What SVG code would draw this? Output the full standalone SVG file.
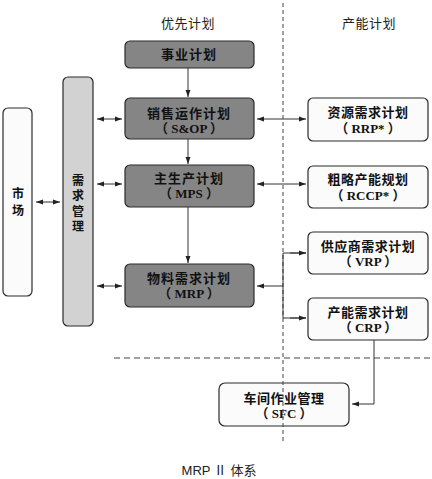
<svg xmlns="http://www.w3.org/2000/svg" width="432" height="479" viewBox="0 0 432 479">
<style>
.dark{fill:#858585;stroke:#2a2a2a;stroke-width:1.2}
.light{fill:#d2d2d2;stroke:#2a2a2a;stroke-width:1.2}
.white{fill:#fbfbfb;stroke:#2a2a2a;stroke-width:1.2}
.t{font-family:"Noto Sans CJK SC",sans-serif;font-size:13px;font-weight:bold;fill:#111;text-anchor:middle}
.v{font-family:"Noto Sans CJK SC",sans-serif;font-size:12px;font-weight:bold;fill:#111;writing-mode:vertical-rl;text-anchor:start}
.s{font-family:"Liberation Serif","Noto Sans CJK SC",serif;font-size:13px;font-weight:bold;fill:#111;text-anchor:middle}
.h{font-family:"Noto Sans CJK SC",sans-serif;font-size:13px;fill:#222;text-anchor:middle}
.c{stroke:#333;stroke-width:1;fill:none}
.d{stroke:#444;stroke-width:1;fill:none}
</style>
<defs>
<marker id="a" viewBox="0 0 10 10" refX="10" refY="5" markerWidth="7" markerHeight="7" orient="auto-start-reverse" markerUnits="userSpaceOnUse">
<path d="M0,1.5 L10,5 L0,8.5 z" fill="#222"/>
</marker>
</defs>
<rect width="432" height="479" fill="#ffffff"/>
<g id="headings">
<text class="h" x="188" y="28" letter-spacing="0.5">优先计划</text>
<text class="h" x="369" y="28" letter-spacing="0.5">产能计划</text>
</g>
<g id="market">
<rect class="white" x="3" y="108" width="29" height="188" rx="5"/>
<text class="v" x="18" y="187" letter-spacing="5">市场</text>
</g>
<g id="demand">
<rect class="light" x="63" y="77" width="30" height="249" rx="5"/>
<text class="v" x="78" y="174" letter-spacing="3.5">需求管理</text>
</g>
<g id="bp">
<rect class="dark" x="125" y="41" width="129" height="27" rx="5"/>
<text class="t" x="189" y="59" letter-spacing="1">事业计划</text>
</g>
<g id="sop">
<rect class="dark" x="125" y="98" width="129" height="41" rx="5"/>
<text class="t" x="189" y="118" letter-spacing="1">销售运作计划</text>
<text class="s" x="189" y="133">（ S&amp;OP ）</text>
</g>
<g id="mps">
<rect class="dark" x="125" y="165" width="129" height="42" rx="5"/>
<text class="t" x="189" y="183" letter-spacing="1">主生产计划</text>
<text class="s" x="189" y="198">（ MPS ）</text>
</g>
<g id="mrp">
<rect class="dark" x="125" y="264" width="129" height="43" rx="5"/>
<text class="t" x="189" y="283" letter-spacing="1">物料需求计划</text>
<text class="s" x="189" y="298">（ MRP ）</text>
</g>
<g id="rrp">
<rect class="white" x="308" y="98" width="120" height="43" rx="5"/>
<text class="t" x="368" y="117" letter-spacing="0.5">资源需求计划</text>
<text class="s" x="368" y="133">（ RRP* ）</text>
</g>
<g id="rccp">
<rect class="white" x="308" y="166" width="120" height="42" rx="5"/>
<text class="t" x="368" y="184" letter-spacing="0.5">粗略产能规划</text>
<text class="s" x="368" y="200">（ RCCP* ）</text>
</g>
<g id="vrp">
<rect class="white" x="308" y="232" width="120" height="42" rx="5"/>
<text class="t" x="368" y="251" letter-spacing="0.5">供应商需求计划</text>
<text class="s" x="368" y="266">（ VRP ）</text>
</g>
<g id="crp">
<rect class="white" x="308" y="298" width="120" height="42" rx="5"/>
<text class="t" x="368" y="317" letter-spacing="0.5">产能需求计划</text>
<text class="s" x="368" y="332">（ CRP ）</text>
</g>
<g id="sfc">
<rect class="white" x="219" y="383" width="130" height="43" rx="6"/>
<text class="t" x="284" y="403" letter-spacing="0.5">车间作业管理</text>
<text class="s" x="284" y="418">（ SFC ）</text>
</g>
<g id="dividers">
<line class="d" x1="283" y1="3" x2="283" y2="443" stroke-dasharray="4 3"/>
<line class="d" x1="114" y1="358" x2="432" y2="358" stroke-dasharray="6 4"/>
</g>
<g id="connectors">
<line class="c" x1="188" y1="68" x2="188" y2="97" marker-end="url(#a)"/>
<line class="c" x1="188" y1="139" x2="188" y2="164" marker-end="url(#a)"/>
<line class="c" x1="188" y1="207" x2="188" y2="263" marker-end="url(#a)"/>
<line class="c" x1="36" y1="202" x2="60" y2="202" marker-start="url(#a)" marker-end="url(#a)"/>
<line class="c" x1="97" y1="119" x2="122" y2="119" marker-start="url(#a)" marker-end="url(#a)"/>
<line class="c" x1="97" y1="184" x2="122" y2="184" marker-start="url(#a)" marker-end="url(#a)"/>
<line class="c" x1="97" y1="286" x2="122" y2="286" marker-start="url(#a)" marker-end="url(#a)"/>
<line class="c" x1="257" y1="119" x2="306" y2="119" marker-start="url(#a)" marker-end="url(#a)"/>
<line class="c" x1="257" y1="184" x2="306" y2="184" marker-start="url(#a)" marker-end="url(#a)"/>
<line class="c" x1="283" y1="286" x2="257" y2="286" marker-end="url(#a)"/>
<polyline class="c" points="306,253 283,253 283,318 306,318"/>
<line class="c" x1="290" y1="253" x2="306" y2="253" marker-end="url(#a)"/>
<line class="c" x1="290" y1="318" x2="306" y2="318" marker-end="url(#a)"/>
<polyline class="c" points="374,340 374,404 352,404" marker-end="url(#a)"/>
</g>
<g id="caption">
<text x="219" y="475" font-family="Liberation Sans,'Noto Sans CJK SC',sans-serif" font-size="13" fill="#222" text-anchor="middle">MRP Ⅱ 体系</text>
</g>
</svg>
